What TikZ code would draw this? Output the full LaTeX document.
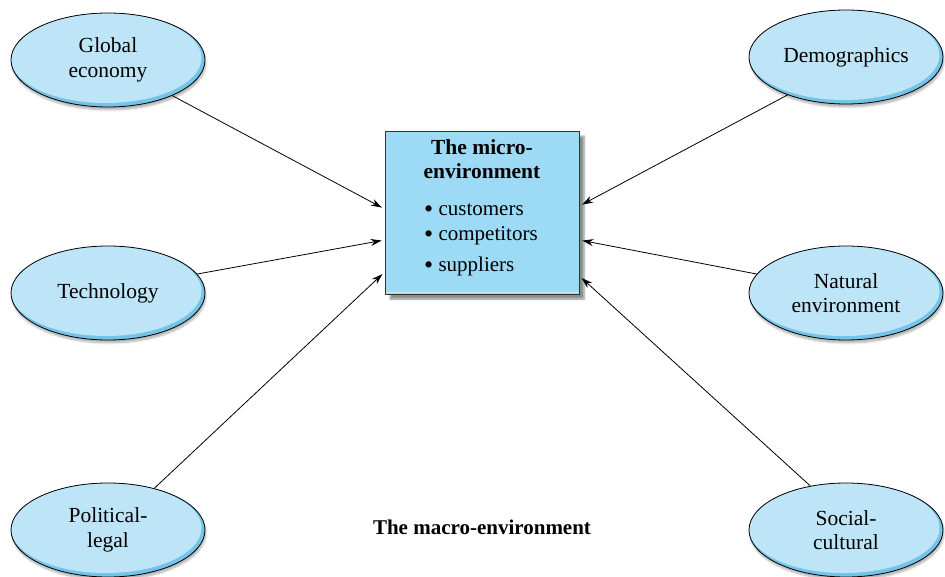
\documentclass[tikz,border=0pt]{standalone}
\usepackage{fontspec}
\setmainfont{Liberation Serif}
\usetikzlibrary{shapes.geometric,arrows.meta,shadows.blur}
\definecolor{ellfill}{HTML}{BEE5F7}
\definecolor{ellrim}{HTML}{74C4EA}
\definecolor{boxfill}{HTML}{9CDAF5}
\definecolor{boxedge}{HTML}{C4EAFA}
\newcommand{\bigdot}{\raisebox{-1.2pt}{\fontsize{26}{24}\selectfont\textbullet}}
\tikzset{
  factor/.style={ellipse, draw=black, line width=0.8pt, fill=ellrim,
    minimum width=194pt, minimum height=94pt, inner sep=0pt,
    align=center, font=\fontsize{21.5}{24.5}\selectfont,
    path picture={\fill[ellfill] ([xshift=-2pt,yshift=2pt]path picture bounding box.center)
      ellipse [x radius=95.5pt, y radius=45pt];},
    blur shadow={shadow xshift=1pt, shadow yshift=-3pt, shadow blur steps=6, shadow opacity=30}},
  microbox/.style={rectangle, draw=black!80, line width=0.8pt, fill=boxfill,
    minimum width=194pt, minimum height=163pt, inner sep=0pt,
    blur shadow={shadow xshift=5pt, shadow yshift=-5pt, shadow blur steps=6, shadow opacity=45}},
  flow/.style={-{Stealth[length=11pt,width=7pt]}, line width=0.8pt, shorten >=3pt},
  body/.style={font=\fontsize{21}{24}\selectfont, inner sep=0pt}
}
\begin{document}
\begin{tikzpicture}[x=1pt,y=-1pt]
\useasboundingbox (0,0) rectangle (945,577);

% central box with its pale inner rim
\node[microbox] (micro) at (482,212.5) {};
\draw[boxedge, line width=1.2pt] ([xshift=1.6pt,yshift=1.6pt]micro.south west) |- ([xshift=-1.6pt,yshift=1.6pt]micro.south east);
\node[body, font=\fontsize{21.5}{24}\selectfont\bfseries, align=center, anchor=base] (title) at (482,179) {The micro-\\environment};
\node[body, anchor=base west] (b1) at (424,216) {\bigdot\ customers};
\node[body, anchor=base west] (b2) at (424,241) {\bigdot\ competitors};
\node[body, anchor=base west] (b3) at (424,272) {\bigdot\ suppliers};

% macro factors
\node[factor] (glob) at (108,60) {Global\\economy};
\node[factor] (tech) at (108,293) {Technology};
\node[factor] (pol) at (108,530) {Political-\\legal};
\node[factor] (demo) at (846,57) {Demographics};
\node[factor] (nat) at (846,293) {Natural\\environment};
\node[factor] (soc) at (846,530) {Social-\\cultural};

\node[body, font=\fontsize{21}{24}\selectfont\bfseries, anchor=base] (macro) at (482,534) {The macro-environment};

% influences
\draw[flow] (glob.-29.6) -- ([yshift=3.5pt]micro.west);
\draw[flow] (tech.12.2) -- ([yshift=-27.5pt]micro.west);
\draw[flow] (pol.42) -- ([yshift=-59.5pt]micro.west);
\draw[flow] (demo.-147.6) -- ([yshift=6.5pt]micro.east);
\draw[flow] (nat.168) -- ([yshift=-27.5pt]micro.east);
\draw[flow] (soc.129.6) -- ([yshift=-63.5pt]micro.east);
\end{tikzpicture}
\end{document}
